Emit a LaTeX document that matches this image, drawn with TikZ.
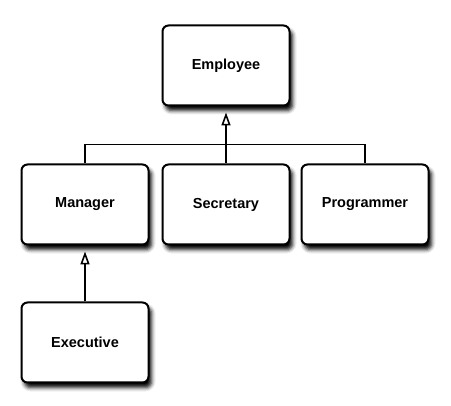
\documentclass[tikz,border=0pt]{standalone}
\usepackage{fontspec}
\setsansfont{Liberation Sans}
\usetikzlibrary{shapes,arrows.meta,positioning,shadows.blur}

\begin{document}
\begin{tikzpicture}
 \tikzset{class node/.style={rectangle, draw, fill=white,
 		line width=2pt, rounded corners=6pt,
 		minimum width=127pt, minimum height=80pt,
 		font=\sffamily\bfseries\fontsize{14.5}{17}\selectfont,
 		blur shadow={shadow xshift=3pt, shadow yshift=-5pt,
 		shadow blur radius=4pt, shadow opacity=100},
 		text centered}, }
 \tikzset{tree line/.style={line width=1.6pt},}
 \tikzset{inherit line/.style={tree line,
 		-{Triangle[open, length=13pt, width=9pt]}, shorten >=6pt},}
 \useasboundingbox (0,0) rectangle (451pt,-406pt);
 \node[class node] (employee) at (226pt,-65.5pt) {Employee};
 \node[class node] (secretary)[below=57pt of employee] {Secretary};
 \node[class node] (manager)[left=12pt of secretary] {Manager};
 \node[class node] (programmer)[right=10pt of secretary] {Programmer};
 \node[class node] (executive)[below=56pt of manager] {Executive};
 \draw[tree line] (manager.north) -- ++(0,19pt) -| (programmer.north);
 \foreach \x /\y in{secretary/employee,executive/manager}
 \draw[inherit line] (\x.north) -- (\y.south);
% %%
\end{tikzpicture}
\end{document}
